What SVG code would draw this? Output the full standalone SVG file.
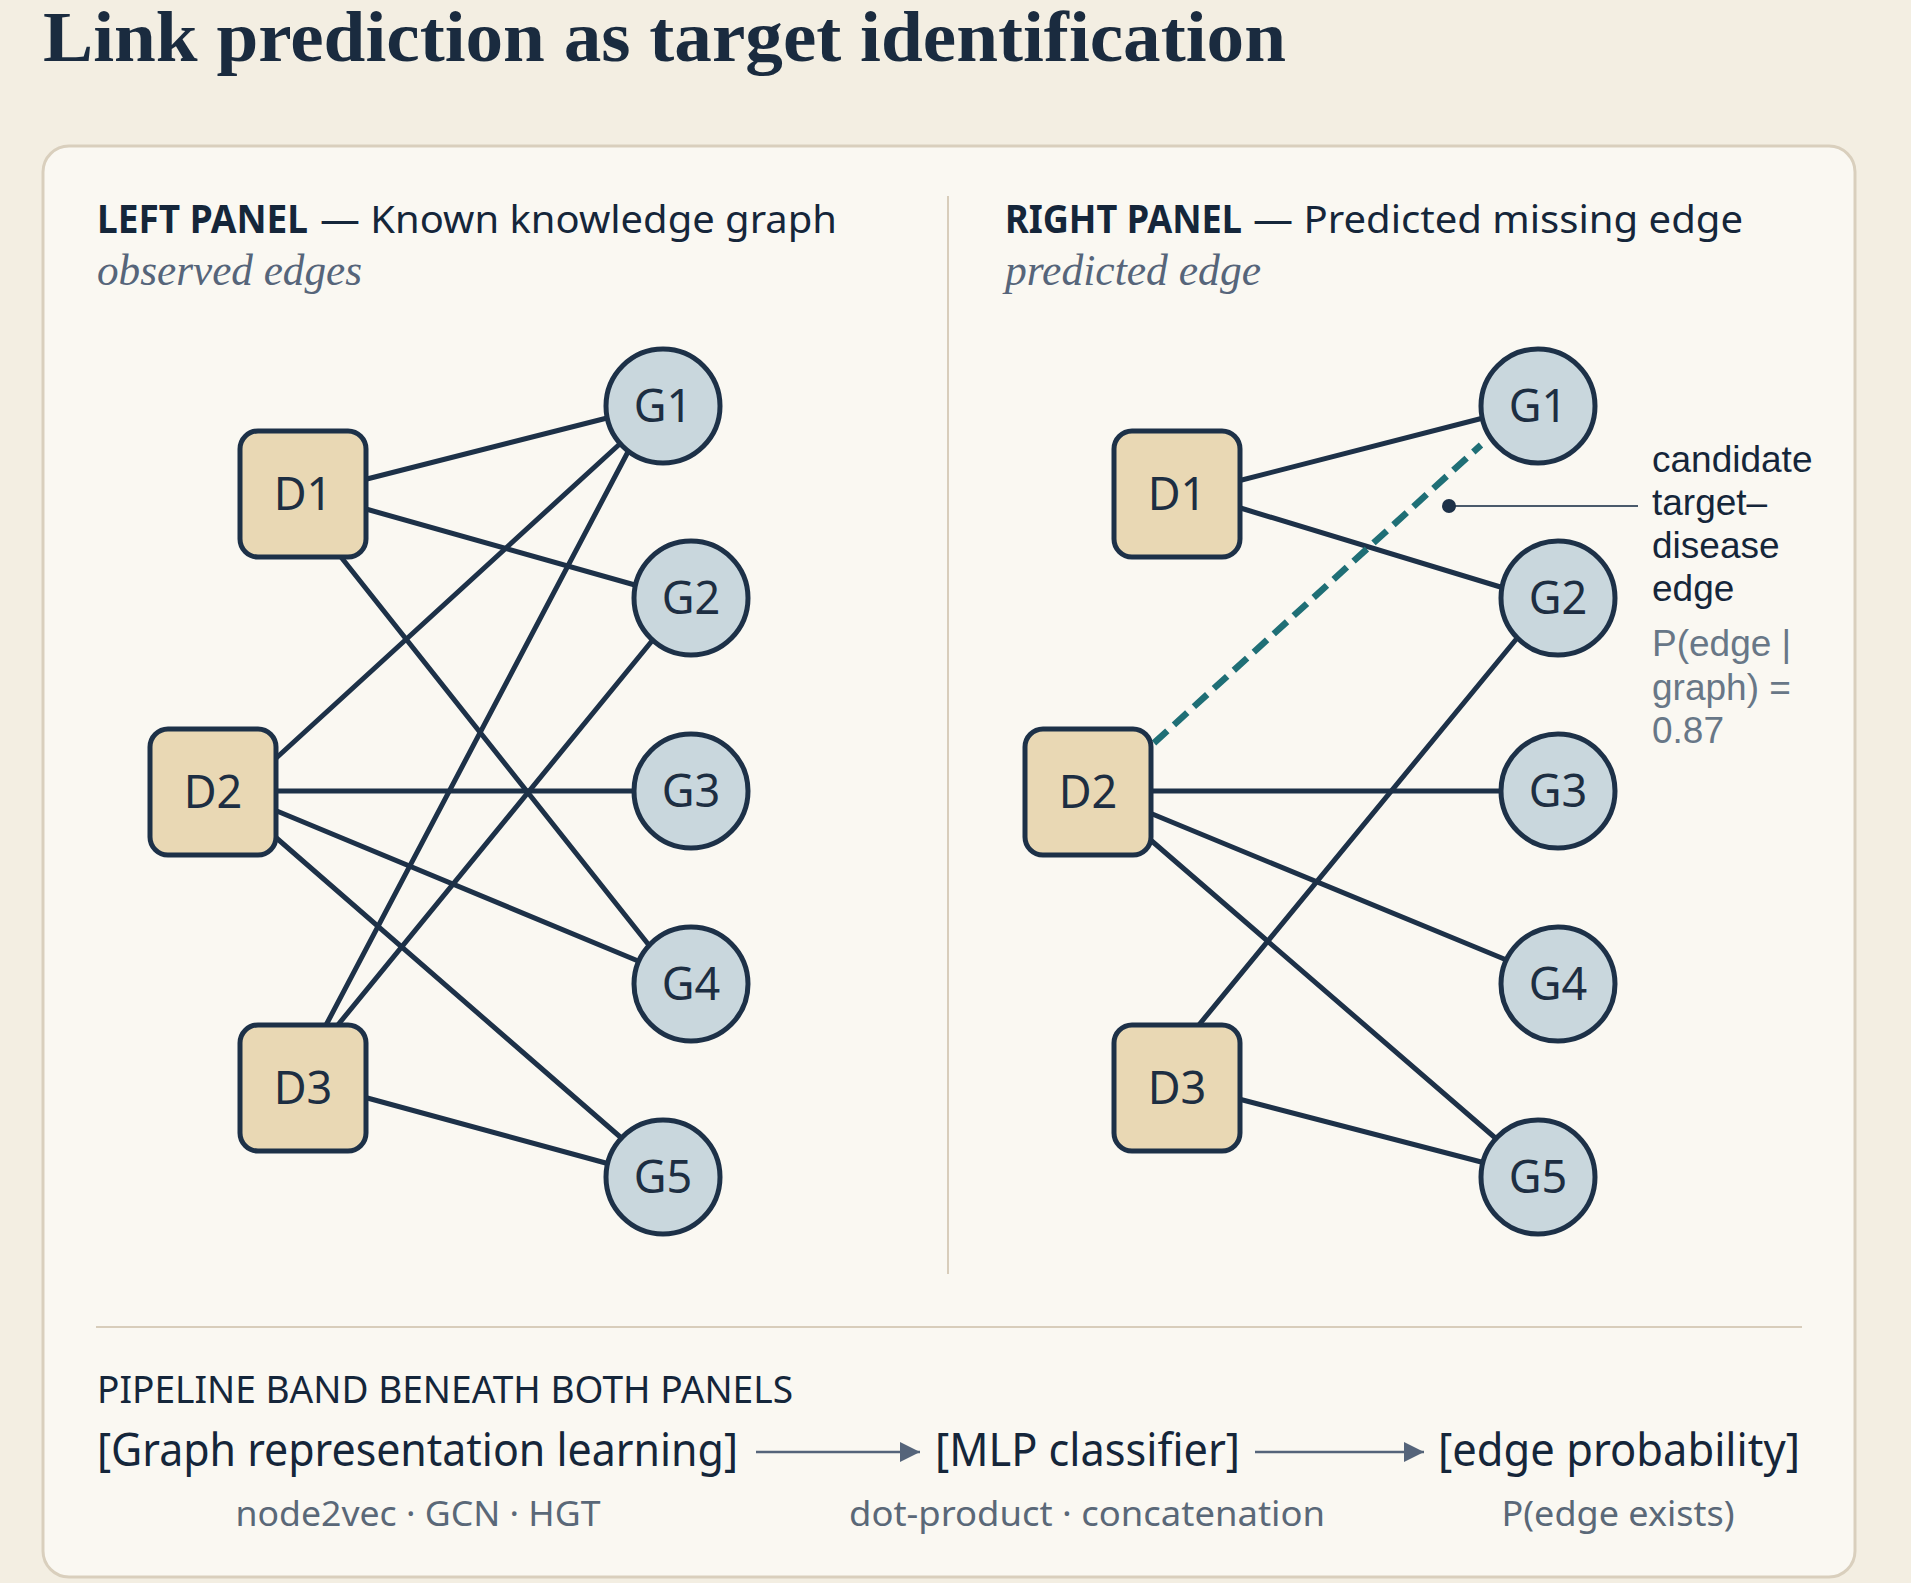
<svg xmlns="http://www.w3.org/2000/svg" width="1911" height="1583" viewBox="0 0 1911 1583">
  <defs>
    <style>
      .edge { stroke: #1d3148; stroke-width: 5; stroke-linecap: round; fill: none; }
      .pred { stroke: #1f6f76; stroke-width: 6.5; stroke-dasharray: 18 9; fill: none; }
      .dnode { fill: #e9d8b4; stroke: #1d3148; stroke-width: 5; }
      .gnode { fill: #c9d7dd; stroke: #1d3148; stroke-width: 5; }
      .lbl { font-family: "Noto Sans", "Liberation Sans", sans-serif; font-size: 45px; fill: #1d2e42; text-anchor: middle; }
      .head { font-family: "Noto Sans", "Liberation Sans", sans-serif; font-size: 39px; fill: #15263a; }
      .sub { font-family: "Liberation Serif", serif; font-style: italic; font-size: 44px; fill: #56657a; }
      .ann { font-family: "Liberation Sans", Arial, sans-serif; font-size: 37px; fill: #15263a; }
      .anng { fill: #687787; }
      .pmain { font-family: "Noto Sans", "Liberation Sans", sans-serif; font-size: 45px; fill: #15263a; }
      .psub { font-family: "Noto Sans", "Liberation Sans", sans-serif; font-size: 35px; fill: #5a6878; text-anchor: middle; }
      .arrow { stroke: #55647a; stroke-width: 2.5; fill: none; }
    </style>
    <marker id="ah" viewBox="0 0 10 10" refX="10" refY="5" markerUnits="userSpaceOnUse" markerWidth="20" markerHeight="22" orient="auto">
      <path d="M0,0 L10,5 L0,10 z" fill="#55647a"/>
    </marker>
  </defs>

  <rect x="0" y="0" width="1911" height="1583" fill="#f3eee2"/>

  <text x="43" y="61" font-family="Liberation Serif, serif" font-weight="bold" font-size="72" fill="#1a2b3f" textLength="1243" lengthAdjust="spacingAndGlyphs">Link prediction as target identification</text>

  <rect x="43" y="146" width="1812" height="1431" rx="26" fill="#faf8f2" stroke="#d9cfbd" stroke-width="3"/>

  <line x1="948" y1="196" x2="948" y2="1274" stroke="#d8cdbb" stroke-width="2"/>
  <line x1="96" y1="1327" x2="1802" y2="1327" stroke="#d8cdbb" stroke-width="2"/>

  <g id="left-header">
    <text class="head" x="97" y="233" font-weight="bold" textLength="211" lengthAdjust="spacingAndGlyphs">LEFT PANEL</text>
    <text class="head" x="320" y="233" textLength="517" lengthAdjust="spacingAndGlyphs">— Known knowledge graph</text>
    <text class="sub" x="97" y="285" textLength="265" lengthAdjust="spacingAndGlyphs">observed edges</text>
  </g>
  <g id="right-header">
    <text class="head" x="1005" y="233" font-weight="bold" textLength="237" lengthAdjust="spacingAndGlyphs">RIGHT PANEL</text>
    <text class="head" x="1253" y="233" textLength="490" lengthAdjust="spacingAndGlyphs">— Predicted missing edge</text>
    <text class="sub" x="1005" y="285" textLength="256" lengthAdjust="spacingAndGlyphs">predicted edge</text>
  </g>

  <g id="connectors">
    <!-- left panel -->
    <line class="edge" x1="359" y1="481" x2="615" y2="416"/>
    <line class="edge" x1="359" y1="507" x2="642" y2="587"/>
    <line class="edge" x1="337" y1="552" x2="652" y2="949"/>
    <line class="edge" x1="273" y1="761" x2="623" y2="441"/>
    <line class="edge" x1="272" y1="791" x2="640" y2="791"/>
    <line class="edge" x1="272" y1="809" x2="643" y2="963"/>
    <line class="edge" x1="273" y1="835" x2="626" y2="1142"/>
    <line class="edge" x1="325" y1="1027" x2="630" y2="448"/>
    <line class="edge" x1="337" y1="1026" x2="656" y2="636"/>
    <line class="edge" x1="360" y1="1096" x2="613" y2="1165"/>
    <!-- right panel -->
    <line class="edge" x1="1234" y1="482" x2="1491" y2="416"/>
    <line class="edge" x1="1234" y1="506" x2="1507" y2="589"/>
    <line class="edge" x1="1147" y1="791" x2="1508" y2="791"/>
    <line class="edge" x1="1145" y1="811" x2="1509" y2="961"/>
    <line class="edge" x1="1146" y1="836" x2="1500" y2="1142"/>
    <line class="edge" x1="1198" y1="1026" x2="1518" y2="637"/>
    <line class="edge" x1="1235" y1="1098" x2="1489" y2="1164"/>
    <line class="pred" x1="1154" y1="743" x2="1481" y2="445"/>
    <!-- annotation leader -->
    <line x1="1449" y1="506" x2="1638" y2="506" stroke="#4a5a6b" stroke-width="2"/>
    <circle cx="1449" cy="506" r="7" fill="#1d3148"/>
    <!-- pipeline arrows -->
    <line class="arrow" x1="756" y1="1452" x2="920" y2="1452" marker-end="url(#ah)"/>
    <line class="arrow" x1="1255" y1="1452" x2="1424" y2="1452" marker-end="url(#ah)"/>
  </g>

  <!-- left panel nodes -->
  <g id="L-D1"><rect class="dnode" x="240" y="431" width="126" height="126" rx="18"/><text class="lbl" x="303" y="510">D1</text></g>
  <g id="L-D2"><rect class="dnode" x="150" y="729" width="126" height="126" rx="18"/><text class="lbl" x="213" y="808">D2</text></g>
  <g id="L-D3"><rect class="dnode" x="240" y="1025" width="126" height="126" rx="18"/><text class="lbl" x="303" y="1104">D3</text></g>
  <g id="L-G1"><circle class="gnode" cx="663" cy="406" r="57"/><text class="lbl" x="663" y="422">G1</text></g>
  <g id="L-G2"><circle class="gnode" cx="691" cy="598" r="57"/><text class="lbl" x="691" y="614">G2</text></g>
  <g id="L-G3"><circle class="gnode" cx="691" cy="791" r="57"/><text class="lbl" x="691" y="807">G3</text></g>
  <g id="L-G4"><circle class="gnode" cx="691" cy="984" r="57"/><text class="lbl" x="691" y="1000">G4</text></g>
  <g id="L-G5"><circle class="gnode" cx="663" cy="1177" r="57"/><text class="lbl" x="663" y="1193">G5</text></g>

  <!-- right panel nodes -->
  <g id="R-D1"><rect class="dnode" x="1114" y="431" width="126" height="126" rx="18"/><text class="lbl" x="1177" y="510">D1</text></g>
  <g id="R-D2"><rect class="dnode" x="1025" y="729" width="126" height="126" rx="18"/><text class="lbl" x="1088" y="808">D2</text></g>
  <g id="R-D3"><rect class="dnode" x="1114" y="1025" width="126" height="126" rx="18"/><text class="lbl" x="1177" y="1104">D3</text></g>
  <g id="R-G1"><circle class="gnode" cx="1538" cy="406" r="57"/><text class="lbl" x="1538" y="422">G1</text></g>
  <g id="R-G2"><circle class="gnode" cx="1558" cy="598" r="57"/><text class="lbl" x="1558" y="614">G2</text></g>
  <g id="R-G3"><circle class="gnode" cx="1558" cy="791" r="57"/><text class="lbl" x="1558" y="807">G3</text></g>
  <g id="R-G4"><circle class="gnode" cx="1558" cy="984" r="57"/><text class="lbl" x="1558" y="1000">G4</text></g>
  <g id="R-G5"><circle class="gnode" cx="1538" cy="1177" r="57"/><text class="lbl" x="1538" y="1193">G5</text></g>

  <g id="annotation">
    <text class="ann" x="1652" y="472"><tspan x="1652" y="472">candidate</tspan><tspan x="1652" y="515">target–</tspan><tspan x="1652" y="558">disease</tspan><tspan x="1652" y="601">edge</tspan><tspan class="anng" x="1652" y="656">P(edge |</tspan><tspan class="anng" x="1652" y="700">graph) =</tspan><tspan class="anng" x="1652" y="743">0.87</tspan></text>
  </g>

  <g id="pipeline">
    <text class="head" x="97" y="1403" font-size="36" textLength="696" lengthAdjust="spacingAndGlyphs">PIPELINE BAND BENEATH BOTH PANELS</text>
    <g id="step-grl">
      <text class="pmain" x="97" y="1466" textLength="641" lengthAdjust="spacingAndGlyphs">[Graph representation learning]</text>
      <text class="psub" x="418" y="1526" textLength="365" lengthAdjust="spacingAndGlyphs">node2vec · GCN · HGT</text>
    </g>
    <g id="step-mlp">
      <text class="pmain" x="935" y="1466" textLength="305" lengthAdjust="spacingAndGlyphs">[MLP classifier]</text>
      <text class="psub" x="1087" y="1526" textLength="476" lengthAdjust="spacingAndGlyphs">dot-product · concatenation</text>
    </g>
    <g id="step-prob">
      <text class="pmain" x="1438" y="1466" textLength="362" lengthAdjust="spacingAndGlyphs">[edge probability]</text>
      <text class="psub" x="1618" y="1526" textLength="233" lengthAdjust="spacingAndGlyphs">P(edge exists)</text>
    </g>
  </g>
</svg>
